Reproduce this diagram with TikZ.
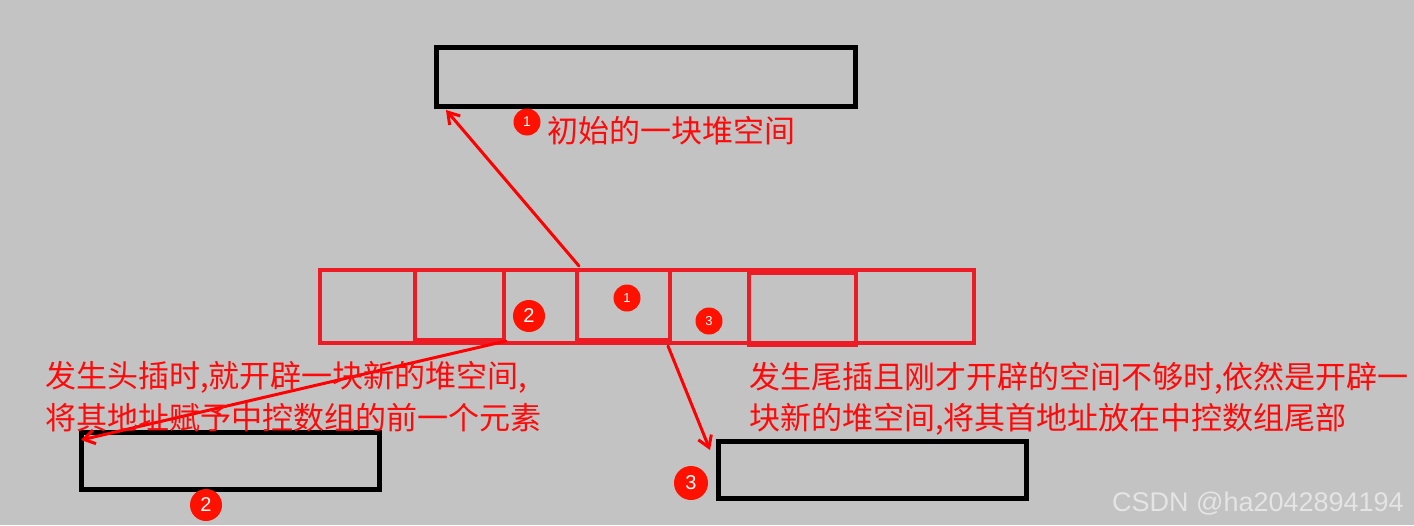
\documentclass[tikz,border=0pt]{standalone}
\usepackage{fontspec}
\setmainfont{Liberation Sans}
\newfontfamily\cjk{Noto Sans CJK SC}
\usetikzlibrary{arrows.meta,calc}
\definecolor{bg}{HTML}{C3C3C3}
\definecolor{arrred}{HTML}{ED1C24}
\definecolor{txtred}{HTML}{FF0A0A}
\definecolor{badgered}{HTML}{FF1100}
\definecolor{wm}{HTML}{E4E4E4}
\begin{document}
\begin{tikzpicture}[x=1pt,y=-1pt,
  heap/.style={draw=black, line width=5pt, inner sep=0pt, outer sep=0pt},
  cell/.style={draw=arrred, line width=4.5pt, inner sep=0pt, outer sep=0pt, minimum height=73pt},
  badge/.style={circle, fill=badgered, text=white, inner sep=0pt, outer sep=0pt},
  ptr/.style={draw=red, line width=3pt, line cap=round, -{Straight Barb[length=11pt,width=14pt,line width=3pt]}},
  note/.style={text=txtred, inner sep=0pt, anchor=base west, font=\cjk\fontsize{31}{31}\selectfont}
]
\fill[bg] (0,0) rectangle (1414,525);
\useasboundingbox (0,0) rectangle (1414,525);

% heap blocks
\node[heap, minimum width=419pt, minimum height=59pt] (top) at (645.5,76.5) {};
\node[heap, minimum width=298pt, minimum height=57pt] (bl) at (230,460.5) {};
\node[heap, minimum width=308pt, minimum height=57pt] (br) at (872,469.5) {};

% central control array
\node[cell, minimum width=95pt] (c1) at (367.5,306.5) {};
\node[cell, minimum width=89pt, minimum height=70pt] (c2) at (459.5,305) {};
\node[cell, minimum width=73pt] (c3) at (540.5,306.5) {};
\node[cell, minimum width=93pt, minimum height=70pt] (c4) at (623.5,305) {};
\node[cell, minimum width=79pt] (c5) at (709.5,306.5) {};
\node[cell, minimum width=107pt, minimum height=72pt] (c6) at (802.5,309) {};
\node[cell, minimum width=118pt] (c7) at (915,306.5) {};
\node[cell, minimum width=654pt] (arr) at (647,306.5) {};

% badges
\node[badge, minimum size=27pt, font=\fontsize{14}{14}\selectfont] (t1) at (527,122) {1};
\node[badge, minimum size=27pt, font=\fontsize{13}{13}\selectfont] (a1) at (627,298) {1};
\node[badge, minimum size=32pt, font=\fontsize{20}{20}\selectfont] (a2) at (529,316) {2};
\node[badge, minimum size=27pt, font=\fontsize{13}{13}\selectfont] (a3) at (709,321) {3};
\node[badge, minimum size=32pt, font=\fontsize{20}{20}\selectfont] (l2) at (206,505) {2};
\node[badge, minimum size=34pt, font=\fontsize{20}{20}\selectfont] (r3) at (691,483) {3};

% pointers
\coordinate (p1s) at ($(c4.north west)+(2,-4)$);
\coordinate (p1e) at ($(top.south west)+(10,4)$);
\coordinate (p2s) at ($(c3.south west)+(2,-2)$);
\coordinate (p2e) at ($(bl.north west)+(0,8)$);
\coordinate (p3s) at ($(c4.south east)+(-2,6)$);
\coordinate (p3e) at ($(br.north west)+(-8,9)$);
\draw[ptr] (p1s) -- (p1e);
\draw[ptr] (p2s) -- (p2e);
\draw[ptr] (p3s) -- (p3e);

% notes
\node[note] (n1) at (547,142) {初始的一块堆空间};
\node[note] (n2a) at (45,387) {发生头插时,就开辟一块新的堆空间,};
\node[note] (n2b) at (45,429) {将其地址赋予中控数组的前一个元素};
\node[note] (n3a) at (749,388) {发生尾插且刚才开辟的空间不够时,依然是开辟一};
\node[note] (n3b) at (749,429) {块新的堆空间,将其首地址放在中控数组尾部};

% watermark
\node[anchor=base west, inner sep=0pt, text=wm, font=\fontsize{27}{27}\selectfont] (wmk) at (1112,511) {CSDN @ha2042894194};
\end{tikzpicture}
\end{document}
